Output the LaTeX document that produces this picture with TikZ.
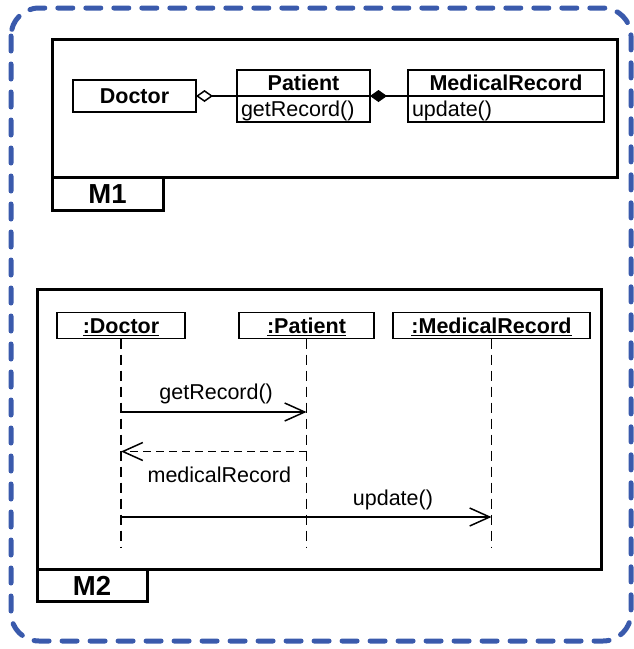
\documentclass[tikz,border=0pt]{standalone}
\usepackage{fontspec}
\setmainfont{Liberation Sans}
\usetikzlibrary{arrows.meta}
\definecolor{frameblue}{RGB}{58,90,172}
\begin{document}
\begin{tikzpicture}[x=1pt,y=-1pt,
  txt/.style={font=\fontsize{21.5}{24}\selectfont, text height=15.5pt, text depth=0pt},
  clsname/.style={txt, draw, line width=1.7pt, inner sep=0pt, outer sep=0pt,
    anchor=north west, font=\fontsize{21.5}{24}\selectfont\bfseries},
  clsops/.style={txt, draw, line width=1.7pt, inner xsep=4pt, inner ysep=0pt,
    outer sep=0pt, anchor=north west, align=left},
  objbox/.style={clsname, anchor=center, minimum height=26pt},
  frame/.style={draw, line width=3pt, inner sep=0pt, outer sep=0pt, anchor=north west},
  tab/.style={frame, font=\fontsize{27.5}{30}\selectfont\bfseries,
    text height=20pt, text depth=0pt},
  lifeline/.style={line width=1.9pt, dash pattern=on 10pt off 6pt},
  msg/.style={line width=1.5pt, -{Straight Barb[length=20pt,width=18pt]}},
  ret/.style={msg, dash pattern=on 8pt off 5pt},
  msglbl/.style={txt, inner sep=0pt, anchor=base},
  outerline/.style={draw=frameblue, line width=5pt, dash pattern=on 15pt off 13pt,
    line cap=round, rounded corners=28pt}
]
\useasboundingbox (0,0) rectangle (634,649);

% dashed rounded border round both diagrams
\draw[outerline] (11,8) rectangle (631,641);

% ---- M1: class diagram ----
\node[frame, minimum width=565pt, minimum height=138pt] (m1) at (52,39) {};
\node[tab, minimum width=111pt, minimum height=33pt] (m1tab) at (m1.south west) {M1};

\node[clsname, minimum width=123pt, minimum height=32pt] (doc) at (73,80) {Doctor};
\node[clsname, minimum width=133pt, minimum height=26pt] (pth) at (237,70) {Patient};
\node[clsops, text width=125pt, minimum height=26pt] (pto) at (pth.south west) {getRecord()};
\node[clsname, minimum width=196pt, minimum height=26pt] (mrh) at (408,70) {MedicalRecord};
\node[clsops, text width=188pt, minimum height=26pt] (mro) at (mrh.south west) {update()};

\draw[line width=1.5pt, {Diamond[open,length=17pt,width=12pt,line width=1.5pt]}-]
  (doc.east) -- (pth.south west);
\draw[line width=1.5pt, {Diamond[length=17pt,width=12pt]}-]
  (pth.south east) -- (mrh.south west);

% ---- M2: sequence diagram ----
\node[frame, minimum width=564pt, minimum height=280pt] (m2) at (37,289) {};
\node[tab, minimum width=110pt, minimum height=32pt] (m2tab) at (m2.south west) {M2};

\node[objbox, minimum width=128pt] (od) at (121,325.5) {\underline{:Doctor}};
\node[objbox, minimum width=135pt] (op) at (306.5,325.5) {\underline{:Patient}};
\node[objbox, minimum width=197pt] (om) at (491.5,325.5) {\underline{:MedicalRecord}};

\coordinate (lifeEnd) at (0,548);
\draw[lifeline] (od.south) -- (od |- lifeEnd);
\draw[lifeline] (op.south) -- (op |- lifeEnd);
\draw[lifeline] (om.south) -- (om |- lifeEnd);

\coordinate (y1) at (0,412);
\coordinate (y2) at (0,451.5);
\coordinate (y3) at (0,517);

\draw[msg] (od |- y1) -- node[msglbl, pos=0.513, yshift=13pt] (l1) {getRecord()} (op |- y1);
\draw[ret] (op |- y2) -- node[msglbl, pos=0.47, yshift=-30.5pt] (l2) {medicalRecord} (od |- y2);
\draw[msg] (od |- y3) -- node[msglbl, pos=0.734, yshift=12pt] (l3) {update()} (om |- y3);
\end{tikzpicture}
\end{document}
